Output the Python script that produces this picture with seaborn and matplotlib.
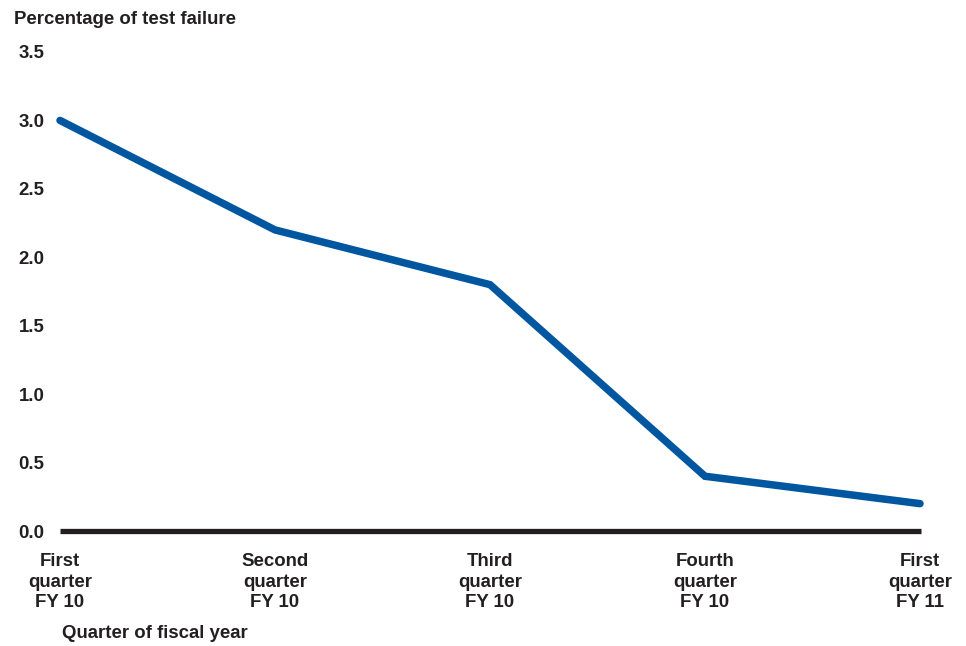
import pandas as pd
import matplotlib
matplotlib.use("Agg")
import matplotlib.pyplot as plt
import seaborn as sns

# data
quarters = ["First\nquarter\nFY 10", "Second\nquarter\nFY 10", "Third\nquarter\nFY 10",
            "Fourth\nquarter\nFY 10", "First\nquarter\nFY 11"]
failure_pct = [3.0, 2.2, 1.8, 0.4, 0.2]
y_ticks = [0.0, 0.5, 1.0, 1.5, 2.0, 2.5, 3.0, 3.5]

df = pd.DataFrame({"pos": range(len(quarters)), "pct": failure_pct})

sns.set_style("white")
plt.rcParams["font.family"] = ["Liberation Sans", "DejaVu Sans"]
plt.rcParams["font.weight"] = "bold"
txt = "#231f20"
fs = 13.4

fig = plt.figure(figsize=(9.66, 6.46), dpi=100)
ax = fig.add_axes([60 / 966, 1 - 531 / 646, (920 - 60) / 966, (531 - 52) / 646])

sns.lineplot(data=df, x="pos", y="pct", ax=ax, color="#0057a0", linewidth=5.4,
             clip_on=False, solid_joinstyle="miter")
ax.plot([0, 4.006], [0, 0], color="#231f20", linewidth=3.8, clip_on=False,
        solid_capstyle="butt", zorder=1)

ax.set_xlim(0, 4)
ax.set_ylim(0, 3.5)
ax.set_xticks(range(len(quarters)))
ax.set_xticklabels(quarters, fontsize=fs, fontweight="bold", color=txt, linespacing=1.27)
ax.set_yticks(y_ticks)
ax.set_yticklabels([f"{v:.1f}" for v in y_ticks], fontsize=fs, fontweight="bold", color=txt)
ax.tick_params(axis="x", length=0, pad=16)
ax.tick_params(axis="y", length=0, pad=11)
for s in ax.spines.values():
    s.set_visible(False)
ax.set_xlabel("")
ax.set_ylabel("")

fig.text(14 / 966, 1 - 20 / 646, "Percentage of test failure", fontsize=fs,
         fontweight="bold", color=txt, ha="left", va="center")
fig.text(62 / 966, 1 - 633 / 646, "Quarter of fiscal year", fontsize=fs,
         fontweight="bold", color=txt, ha="left", va="center")

fig.savefig("out.png", dpi=100)
